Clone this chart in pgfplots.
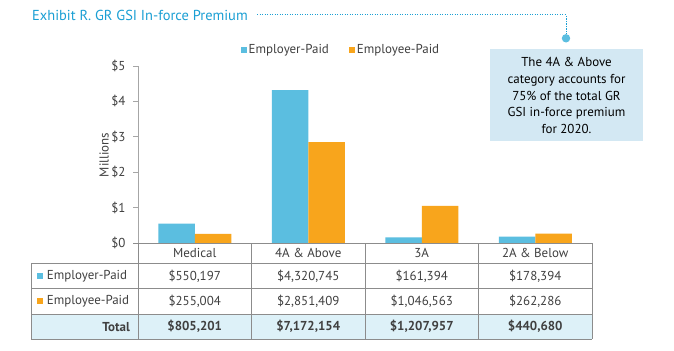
\documentclass[border=0pt]{standalone}
\usepackage{fontspec}
\setmainfont{PT Sans}
\usepackage{pgfplots}
\pgfplotsset{compat=1.18}
\definecolor{cblue}{HTML}{5BBEE0}
\definecolor{corange}{HTML}{F8A51C}
\definecolor{ctitle}{HTML}{1A9FD4}
\definecolor{cbox}{HTML}{D3E8F3}
\definecolor{ctotal}{HTML}{DDF1F8}
\definecolor{cgrid}{HTML}{8C8C8C}
\definecolor{ctext}{HTML}{404040}
\definecolor{caxis}{HTML}{A6A6A6}
\newcommand{\fs}[1]{\fontsize{#1}{#1}\selectfont}
\begin{document}
\begin{tikzpicture}[x=1bp,y=1bp]
\path[use as bounding box, fill=white] (0,0) rectangle (674,350);
% title and connector
\node[anchor=base west, inner sep=0, text=ctitle, font=\fs{14.5}] at (32,330) {Exhibit R. GR GSI In-force Premium};
\draw[ctitle, line width=1bp, dash pattern=on 1.2bp off 1.3bp] (257,335) -- (566,335) -- (566,316);
\fill[cblue] (566,311.7) circle (4.2);
% callout
\fill[cbox] (490,301) rectangle (643,209.3);
\node[align=center, text=black, font=\fontsize{13}{16.6}\selectfont, inner sep=0] at (566.5,254.5) {The 4A \& Above\\category accounts for\\75\% of the total GR\\GSI in-force premium\\for 2020.};
\node[rotate=90, font=\fs{13}, text=ctext] at (104,195) {Millions};
\begin{axis}[
  at={(138bp,107bp)}, anchor=south west, scale only axis,
  width=454bp, height=177bp,
  xmin=-0.5, xmax=3.5, ymin=0, ymax=5,
  ybar=0pt, bar width=36.5bp,
  axis x line=none, axis y line*=left,
  axis line style={caxis, line width=0.8bp},
  ytick={0,1,2,3,4,5}, yticklabels={\$0,\$1,\$2,\$3,\$4,\$5},
  xtick=\empty,
  tick align=outside, major tick length=5bp,
  ytick style={caxis, line width=0.8bp},
  yticklabel style={font=\fs{13}, text=ctext, xshift=-4bp},
  clip=false,
  legend style={at={(0.447,1.09)}, anchor=center, draw=none, fill=none, legend columns=2, font=\fs{13}, text=ctext,
    /tikz/every even column/.append style={column sep=18bp}},
  legend image code/.code={\fill[#1] (-2bp,-3bp) rectangle (4bp,3bp);},
]
\addplot[fill=cblue, draw=none] coordinates {(0,0.550197) (1,4.320745) (2,0.161394) (3,0.178394)};
\addplot[fill=corange, draw=none] coordinates {(0,0.255004) (1,2.851409) (2,1.046563) (3,0.262286)};
\legend{Employer-Paid, Employee-Paid}
\end{axis}
% table
\fill[ctotal] (31,36) rectangle (592,10.7);
\draw[white, line width=1bp] (138,36) -- (138,10.7) (251.5,36) -- (251.5,10.7) (365,36) -- (365,10.7) (478.5,36) -- (478.5,10.7);
\begin{scope}[cgrid, line width=0.9bp]
\draw (133,107) -- (592,107);
\draw (31,86.7) -- (592,86.7);
\draw (31,61.7) -- (592,61.7);
\draw (31,36) -- (592,36);
\draw (31,10.7) -- (592,10.7);
\draw (31,86.7) -- (31,10.7);
\draw (138,107) -- (138,10.7);
\draw (251.5,107) -- (251.5,10.7);
\draw (365,107) -- (365,10.7);
\draw (478.5,107) -- (478.5,10.7);
\draw (592,107) -- (592,10.7);
\end{scope}
\begin{scope}[every node/.style={font=\fs{13}, text=ctext, inner sep=0}]
\node at (194.75,97) {Medical};
\node at (308.25,97) {4A \& Above};
\node at (421.75,97) {3A};
\node at (535.25,97) {2A \& Below};
\fill[cblue] (36.7,71) rectangle (42.7,77);
\fill[corange] (36.7,46) rectangle (42.7,52);
\node[anchor=west] at (46.7,74) {Employer-Paid};
\node[anchor=west] at (46.7,49) {Employee-Paid};
\node[anchor=east, font=\fs{13}\bfseries] at (130,23.3) {Total};
\node at (194.75,74) {\$550,197};
\node at (308.25,74) {\$4,320,745};
\node at (421.75,74) {\$161,394};
\node at (535.25,74) {\$178,394};
\node at (194.75,49) {\$255,004};
\node at (308.25,49) {\$2,851,409};
\node at (421.75,49) {\$1,046,563};
\node at (535.25,49) {\$262,286};
\node[font=\fs{13}\bfseries] at (194.75,23.3) {\$805,201};
\node[font=\fs{13}\bfseries] at (308.25,23.3) {\$7,172,154};
\node[font=\fs{13}\bfseries] at (421.75,23.3) {\$1,207,957};
\node[font=\fs{13}\bfseries] at (535.25,23.3) {\$440,680};
\end{scope}
\end{tikzpicture}
\end{document}
